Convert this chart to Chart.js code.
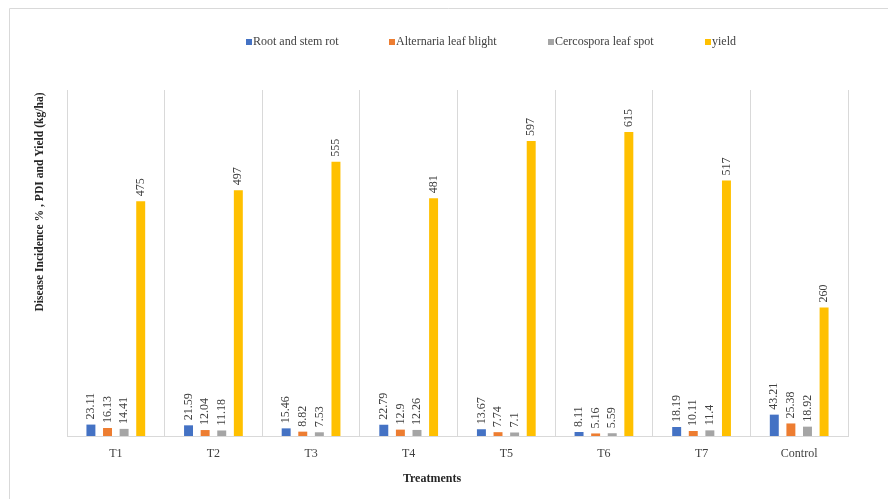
<!DOCTYPE html>
<html>
<head>
<meta charset="utf-8">
<script src="https://cdn.jsdelivr.net/npm/chart.js@4"></script>
<style>
  html, body { margin: 0; padding: 0; background: #fff; }
  #wrap { width: 888px; height: 499px; position: relative; }
</style>
</head>
<body>
<div id="wrap"><canvas id="chart"></canvas></div>
<script>
const treatments = ["T1", "T2", "T3", "T4", "T5", "T6", "T7", "Control"];
const rootStemRot = [23.11, 21.59, 15.46, 22.79, 13.67, 8.11, 18.19, 43.21];
const alternariaBlight = [16.13, 12.04, 8.82, 12.9, 7.74, 5.16, 10.11, 25.38];
const cercosporaSpot = [14.41, 11.18, 7.53, 12.26, 7.1, 5.59, 11.4, 18.92];
const yieldKg = [475, 497, 555, 481, 597, 615, 517, 260];

const seriesNames = ["Root and stem rot", "Alternaria leaf blight", "Cercospora leaf spot", "yield"];
const seriesColors = ["#4472C4", "#ED7D31", "#A5A5A5", "#FFC000"];
const legendX = [246, 389, 548, 705];

const serif = "'Liberation Serif', 'DejaVu Serif', serif";
const textColor = "#404040";

// labels, legend, frame and titles are drawn by hand
const extras = {
  id: "extras",
  beforeDraw(chart) {
    const ctx = chart.ctx;
    ctx.save();
    ctx.strokeStyle = "#d9d9d9";
    ctx.lineWidth = 1;
    ctx.beginPath();
    ctx.moveTo(9.5, 499);
    ctx.lineTo(9.5, 8.5);
    ctx.lineTo(888, 8.5);
    ctx.stroke();
    ctx.restore();
  },
  afterDatasetsDraw(chart) {
    const ctx = chart.ctx;
    ctx.save();
    ctx.fillStyle = textColor;
    ctx.font = "12px " + serif;
    chart.data.datasets.forEach((ds, i) => {
      const meta = chart.getDatasetMeta(i);
      meta.data.forEach((bar, j) => {
        ctx.save();
        ctx.translate(bar.x, bar.y - 5);
        ctx.rotate(-Math.PI / 2);
        ctx.textAlign = "left";
        ctx.textBaseline = "middle";
        ctx.fillText(String(ds.data[j]), 0, 0);
        ctx.restore();
      });
    });

    // legend
    ctx.font = "12px " + serif;
    ctx.textBaseline = "middle";
    ctx.textAlign = "left";
    seriesNames.forEach((name, i) => {
      ctx.fillStyle = seriesColors[i];
      ctx.fillRect(legendX[i], 39, 6, 6);
      ctx.fillStyle = textColor;
      ctx.fillText(name, legendX[i] + 7, 42);
    });

    // axis titles
    ctx.fillStyle = "#262626";
    ctx.font = "bold 12px " + serif;
    ctx.textAlign = "center";
    ctx.fillText("Treatments", 432, 479);
    ctx.save();
    ctx.translate(40, 202);
    ctx.rotate(-Math.PI / 2);
    ctx.font = "bold 11.6px " + serif;
    ctx.fillText("Disease Incidence % , PDI and Yield (kg/ha)", 0, 0);
    ctx.restore();
    ctx.restore();
  }
};

const datasets = [rootStemRot, alternariaBlight, cercosporaSpot, yieldKg].map((vals, i) => ({
  label: seriesNames[i],
  data: vals,
  backgroundColor: seriesColors[i],
  borderWidth: 0,
  categoryPercentage: 0.68,
  barPercentage: 0.54
}));

new Chart(document.getElementById("chart"), {
  type: "bar",
  data: { labels: treatments, datasets: datasets },
  options: {
    responsive: true,
    maintainAspectRatio: false,
    animation: false,
    layout: { padding: { left: 0, right: 40, top: 90, bottom: 0 } },
    plugins: {
      legend: { display: false },
      tooltip: { enabled: false }
    },
    scales: {
      x: {
        grid: { color: "#d9d9d9", offset: true, drawTicks: false },
        border: { color: "#d9d9d9" },
        ticks: { color: textColor, font: { family: serif, size: 12 }, padding: 11 },
        afterFit(s) { s.height = 63; }
      },
      y: {
        min: 0,
        max: 700,
        grid: { display: false },
        border: { display: false },
        ticks: { display: false },
        afterFit(s) { s.width = 67; }
      }
    }
  },
  plugins: [extras]
});
</script>
</body>
</html>
